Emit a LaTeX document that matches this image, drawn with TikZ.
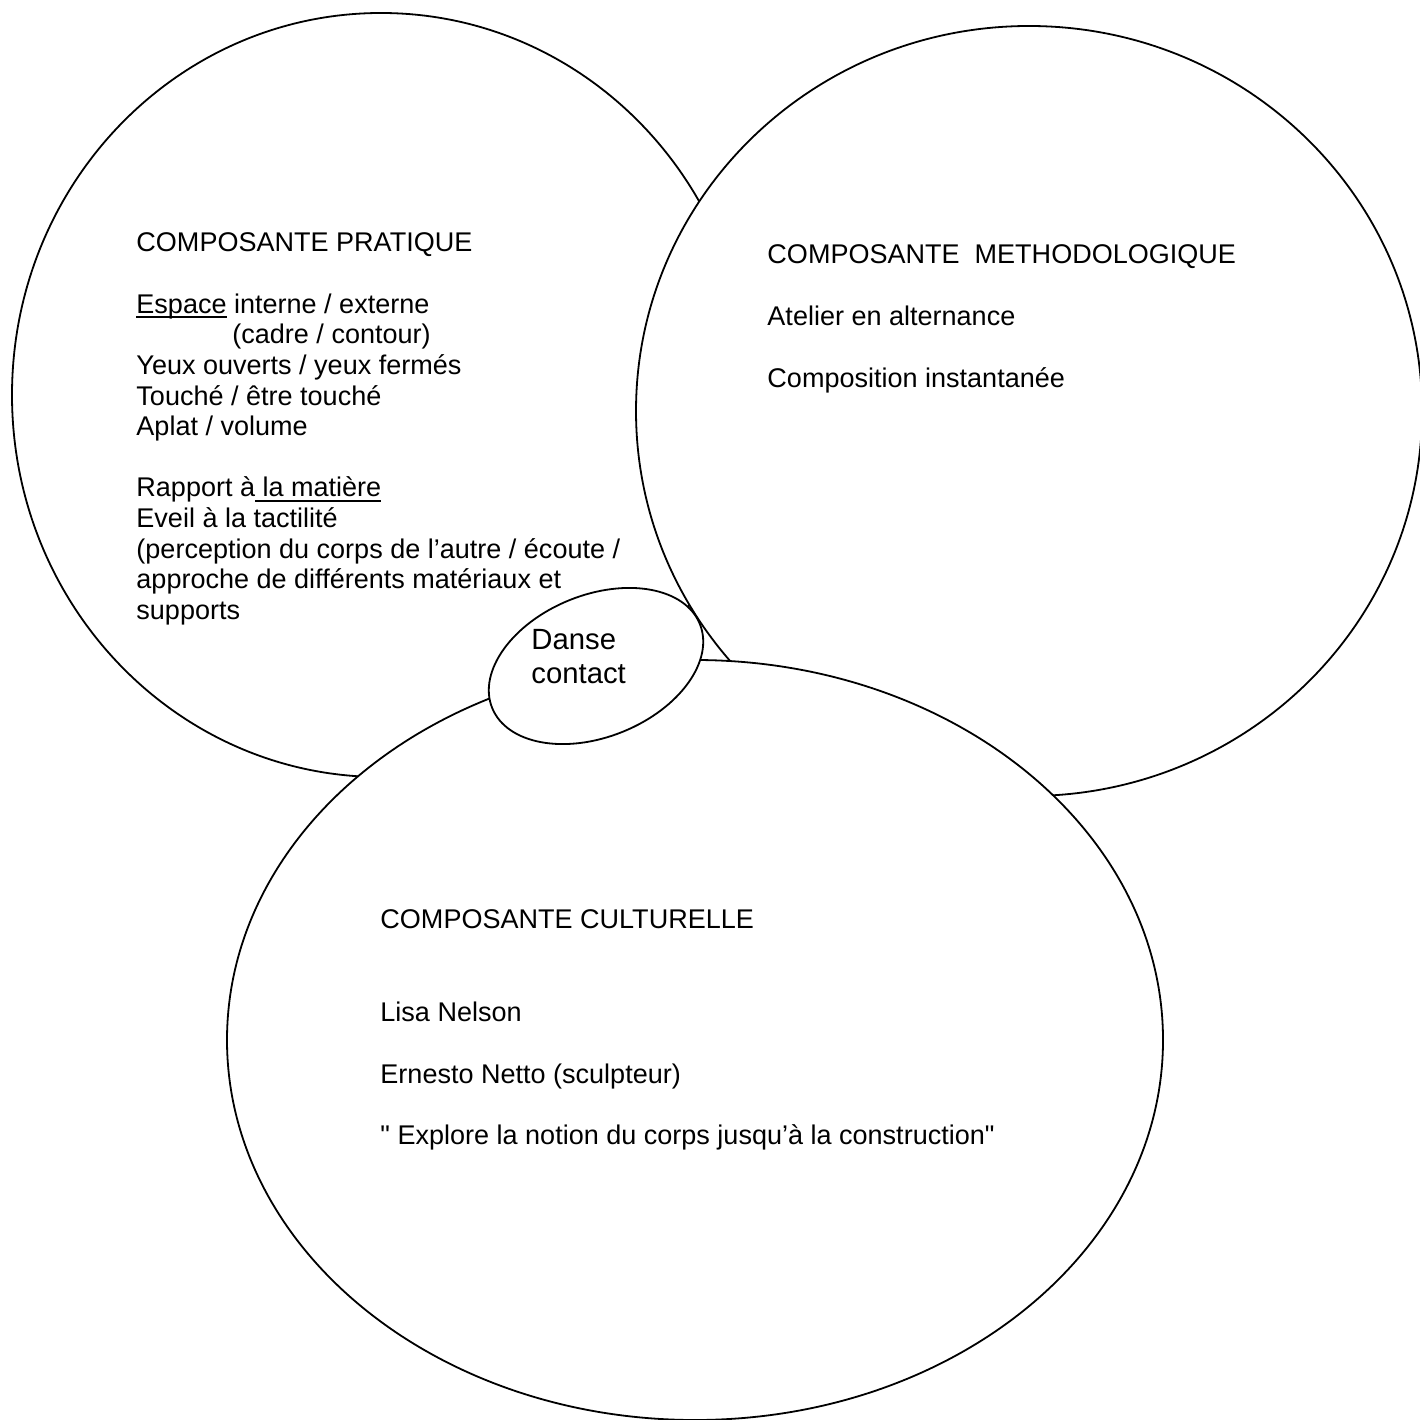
\documentclass[tikz,border=0pt]{standalone}
\usepackage{fontspec}
\setmainfont{Liberation Sans}[Ligatures=TeXOff]
\newcommand{\souligne}[1]{\setbox0\hbox{#1}\rlap{\rule[-2.1pt]{\wd0}{0.7pt}}\box0\relax}
\tikzset{
  zone/.style={draw, fill=white, line width=0.8pt},
  bloc/.style={anchor=north west, align=left, inner sep=0pt,
    font=\fontsize{12}{13.7}\selectfont}
}
\begin{document}
\begin{tikzpicture}[x=0.444pt,y=-0.444pt]
\useasboundingbox (0,0) rectangle (1420,1420);
% les trois composantes
\coordinate (cpratique) at (381,395);
\coordinate (cmethode) at (1029,411);
\coordinate (cculture) at (695,1040);
\coordinate (cdanse) at (596,666);
\draw[zone] (cpratique) ellipse [x radius=369, y radius=382];
\draw[zone] (cmethode) ellipse [x radius=393, y radius=385];
\draw[zone] (cculture) ellipse [x radius=468, y radius=380];
% au milieu
\draw[zone, rotate around={22:(cdanse)}] (cdanse) ellipse [x radius=112, y radius=71];

\node[bloc, font=\fontsize{12}{13.6}\selectfont] (pratique) at (136,232.6) {COMPOSANTE PRATIQUE\\[13.6pt]
  \souligne{Espace} interne / externe\\
  \hspace*{42.6pt}(cadre / contour)\\
  Yeux ouverts / yeux fermés\\
  Touché / être touché\\
  Aplat / volume\\[13.6pt]
  Rapport à\souligne{ la matière}\\
  Eveil à la tactilité\\
  (perception du corps de l’autre / écoute /\\
  approche de différents matériaux et\\
  supports};
\node[bloc] (methode) at (767,244.6) {COMPOSANTE\ \ METHODOLOGIQUE\\[13.7pt]
  Atelier en alternance\\[13.7pt]
  Composition instantanée};
\node[bloc] (culture) at (380,909.6) {COMPOSANTE CULTURELLE\\[27.4pt]
  Lisa Nelson\\[13.7pt]
  Ernesto Netto (sculpteur)\\[13.7pt]
  " Explore la notion du corps jusqu’à la construction"};
\node[bloc, font=\fontsize{13}{15}\selectfont] (danse) at (531,629) {Danse\\ contact};
\end{tikzpicture}
\end{document}
